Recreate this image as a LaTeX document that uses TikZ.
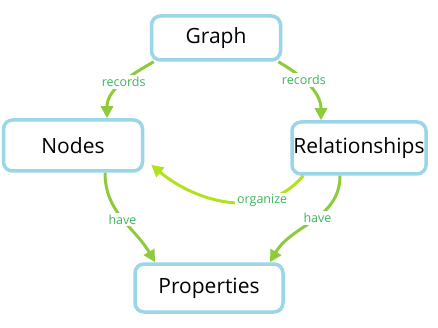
\documentclass[tikz,border=0pt]{standalone}
\usepackage{fontspec}
\setmainfont{Open Sans}
\usepackage{tikz}
\usetikzlibrary{arrows.meta}
\definecolor{boxBlue}{HTML}{9AD6E8}
\definecolor{linkGreen}{HTML}{8DCB3C}
\definecolor{linkYellow}{HTML}{B2E21E}
\definecolor{labelGreen}{HTML}{3DB65A}
\tikzset{
  conceptbox/.style={rectangle, rounded corners=9pt, draw=boxBlue, fill=white, line width=3.5pt, font=\fontsize{21}{24}\selectfont, text=black, inner sep=0pt},
  linkarrow/.style={-{Triangle[length=12pt,width=12pt]}, line width=3pt, draw=#1},
  linkarrow/.default=linkGreen,
  linklabel/.style={font=\fontsize{12.5}{14}\selectfont, text=labelGreen, fill=white, inner sep=2pt},
}
\begin{document}
\begin{tikzpicture}[x=1pt,y=-1pt]
  \useasboundingbox (0,0) rectangle (438,328);
  \node[conceptbox, minimum width=129pt, minimum height=44pt] (graph) at (216,38) {Graph};
  \node[conceptbox, minimum width=139pt, minimum height=51pt] (nodes) at (73,145.5) {Nodes};
  \node[conceptbox, minimum width=134pt, minimum height=52pt] (rel) at (359,148) {Relationships};
  \node[conceptbox, minimum width=148pt, minimum height=48pt] (props) at (209,288) {Properties};

  \draw[linkarrow] ([xshift=4pt]graph.south west) to[out=210,in=90] node[linklabel, pos=0.45] {records} ([xshift=34pt]nodes.north);
  \draw[linkarrow] ([xshift=-4pt]graph.south east) to[out=-30,in=90] node[linklabel, pos=0.4] {records} ([xshift=-38pt]rel.north);
  \draw[linkarrow=linkYellow] ([xshift=13pt]rel.south west) to[out=230,in=-40] node[linklabel, pos=0.3] {organize} ([xshift=7pt,yshift=8pt]nodes.south east);
  \draw[linkarrow] ([xshift=32pt]nodes.south) to[out=-90,in=120] node[linklabel, pos=0.5] {have} ([xshift=-54pt]props.north);
  \draw[linkarrow] ([xshift=-19pt]rel.south) to[out=-90,in=60] node[linklabel, pos=0.45] {have} ([xshift=61pt]props.north);
\end{tikzpicture}
\end{document}
